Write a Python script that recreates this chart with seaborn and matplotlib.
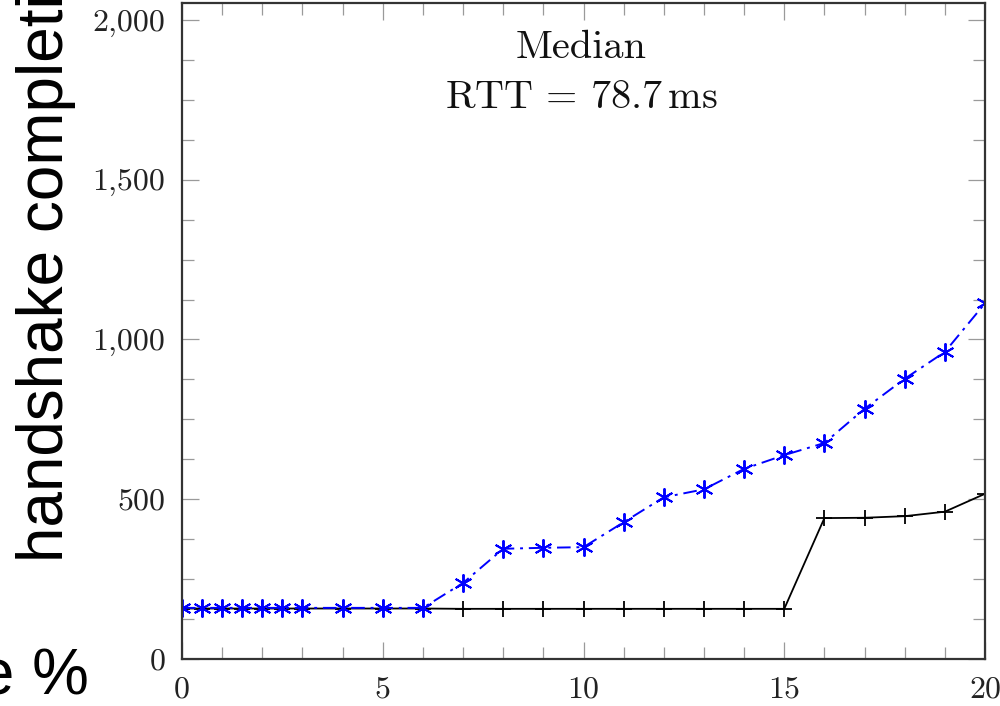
import matplotlib
matplotlib.use("Agg")
import matplotlib.pyplot as plt
import matplotlib.ticker as mticker
import seaborn as sns
import pandas as pd

# ---- data ----
loss_rate = [0, 0.5, 1, 1.5, 2, 2.5, 3, 4, 5, 6, 7, 8, 9, 10, 11, 12, 13, 14, 15, 16, 17, 18, 19, 20]
blue_series = [160, 160, 160, 160, 160, 160, 160, 160, 160, 160, 238, 345, 348, 350, 428, 506, 531, 595, 638, 676, 783, 877, 961, 1113]
black_series = [158, 158, 158, 158, 158, 158, 158, 158, 158, 158, 157, 157, 157, 157, 157, 157, 157, 157, 157, 441, 442, 447, 461, 517]
x_major_ticks = [0, 5, 10, 15, 20]
y_major_ticks = [0, 500, 1000, 1500, 2000]
annotation_lines = ["Median", r"$\mathrm{RTT}\,=\,78.7\,\mathrm{ms}$"]
ylabel_text = "handshake completion time (ms)"
xlabel_text = "loss rate %"

df = pd.DataFrame({"x": loss_rate, "blue": blue_series, "black": black_series})

sns.set_theme(style="white")
plt.rcParams["mathtext.fontset"] = "cm"
plt.rcParams["axes.formatter.use_mathtext"] = True

fig = plt.figure(figsize=(10, 7.06), dpi=100)
ax = fig.add_axes([0.182, 1 - 659 / 706, 0.985 - 0.182, (659 - 3) / 706])

sns.lineplot(data=df, x="x", y="black", ax=ax, color="black", linewidth=1.3,
             marker="+", markersize=11, markeredgewidth=1.3,
             markeredgecolor="black", markerfacecolor="black", linestyle="-")
sns.lineplot(data=df, x="x", y="blue", ax=ax, color="#0000ff", linewidth=1.4,
             marker=(6, 2, 0), markersize=13, markeredgewidth=1.4,
             markeredgecolor="#0000ff", markerfacecolor="#0000ff",
             linestyle=(0, (7, 3, 1.5, 3)))

ax.set_xlim(0, 20)
ax.set_ylim(0, 2053)
ax.set_xlabel("")
ax.set_ylabel("")

ax.xaxis.set_major_locator(mticker.FixedLocator(x_major_ticks))
ax.xaxis.set_minor_locator(mticker.MultipleLocator(1))
ax.yaxis.set_major_locator(mticker.FixedLocator(y_major_ticks))
ax.yaxis.set_minor_locator(mticker.MultipleLocator(125))
ax.yaxis.set_major_formatter(mticker.FuncFormatter(lambda v, p: f"{int(v):,}"))
ax.xaxis.set_major_formatter(mticker.FuncFormatter(lambda v, p: f"{int(v)}"))

ax.tick_params(which="both", direction="in", top=True, right=True, bottom=True, left=True,
               color="#9a9a9a", width=0.9)
ax.tick_params(which="major", length=12.5)
ax.tick_params(which="minor", length=8.5)
ax.tick_params(axis="y", which="major", pad=12, labelsize=23)
ax.tick_params(axis="x", which="major", pad=12, labelsize=23)
for lab in ax.get_xticklabels() + ax.get_yticklabels():
    lab.set_fontfamily("cmr10")
    lab.set_color("#222222")

for sp in ax.spines.values():
    sp.set_color("#333333")
    sp.set_linewidth(1.6)
    sp.set_visible(True)

ax.text(0.497, 0.916, annotation_lines[0], transform=ax.transAxes, ha="center",
        va="baseline", fontsize=29, family="cmr10", color="#111111")
ax.text(0.497, 0.84, annotation_lines[1], transform=ax.transAxes, ha="center",
        va="baseline", fontsize=29, color="#111111")

fig.text(63 / 1000, 1 - 562 / 706, ylabel_text, rotation=90, rotation_mode="anchor",
         ha="left", va="baseline", fontsize=46, family="Liberation Sans", color="black")
fig.text(89 / 1000, 1 - 693 / 706, xlabel_text, ha="right", va="baseline",
         fontsize=46, family="Liberation Sans", color="black")

fig.savefig("out.png", dpi=100)
